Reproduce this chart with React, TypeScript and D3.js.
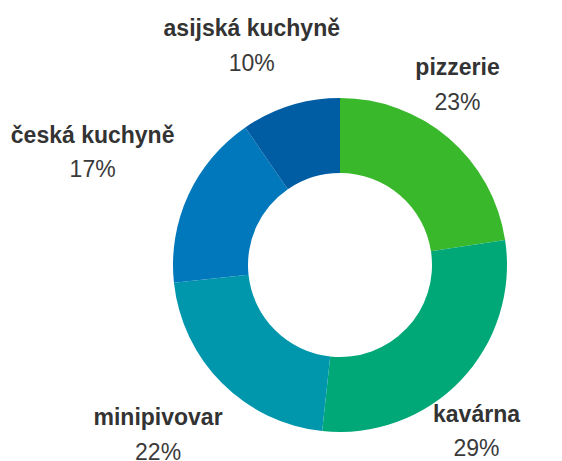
import React, { useEffect, useRef } from "react";
import * as d3 from "d3";

const categories = ["pizzerie", "kavárna", "minipivovar", "česká kuchyně", "asijská kuchyně"];
const shares = [22.6, 29.1, 21.6, 17.1, 9.6];
const colors = ["#3ab82c", "#00a878", "#0097ad", "#0078bb", "#005da4"];

const W = 562;
const H = 461;
const CX = 340;
const CY = 265;
const OUTER = 167;
const INNER = 92;
const LABEL_R = 198;
const FONT = "'Liberation Sans', Arial, sans-serif";

export default function App() {
  const ref = useRef<SVGSVGElement | null>(null);

  useEffect(() => {
    const svg = d3.select(ref.current);
    svg.selectAll("*").remove();

    const pie = d3.pie<number>().sort(null).value((d) => d);
    const arcs = pie(shares);
    const total = d3.sum(shares);
    const arc = d3.arc<d3.PieArcDatum<number>>().innerRadius(INNER).outerRadius(OUTER);

    const g = svg.append("g").attr("transform", `translate(${CX},${CY})`);
    g.selectAll("path")
      .data(arcs)
      .join("path")
      .attr("d", arc)
      .attr("fill", (_d, i) => colors[i]);

    const lg = svg.append("g");
    arcs.forEach((a, i) => {
      const theta = (a.startAngle + a.endAngle) / 2;
      const anchorY = CY - LABEL_R * Math.cos(theta);
      let nameBase: number;
      if (Math.cos(theta) > 0) {
        // upper half: block bottom sits at anchor
        nameBase = anchorY - 5 - 34.5;
      } else {
        // lower half: block top sits at anchor
        nameBase = anchorY + 20;
      }
      const pctBase = nameBase + 34.5;
      const top = nameBase - 17;
      const bottom = pctBase + 5;

      const name = lg
        .append("text")
        .attr("font-family", FONT)
        .attr("font-size", 23)
        .attr("font-weight", "bold")
        .attr("fill", "#333333")
        .attr("text-anchor", "middle")
        .attr("y", nameBase)
        .text(categories[i]);
      const pct = lg
        .append("text")
        .attr("font-family", FONT)
        .attr("font-size", 23)
        .attr("fill", "#3a3a3a")
        .attr("text-anchor", "middle")
        .attr("y", pctBase)
        .text(`${Math.round((shares[i] / total) * 100)}%`);

      const w = Math.max(
        (name.node() as SVGTextElement).getComputedTextLength(),
        (pct.node() as SVGTextElement).getComputedTextLength()
      );
      const right = Math.sin(theta) >= 0;
      let dyNear = 0;
      if (bottom < CY) dyNear = CY - bottom;
      else if (top > CY) dyNear = top - CY;
      const rt = right ? OUTER + 1 : OUTER + 18;
      const off = dyNear < rt ? Math.sqrt(rt * rt - dyNear * dyNear) : 0;
      const center = right ? CX + off + w / 2 : CX - off - w / 2;
      name.attr("x", center);
      pct.attr("x", center);
    });
  }, []);

  return (
    <svg
      ref={ref}
      width={W}
      height={H}
      style={{ position: "absolute", left: 0, top: 0, background: "#ffffff" }}
    />
  );
}
